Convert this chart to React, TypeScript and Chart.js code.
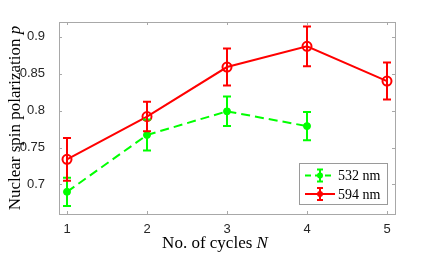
import React, { useEffect, useRef } from "react";
import { Chart, registerables } from "chart.js";
Chart.register(...registerables);

const cycles = [1, 2, 3, 4, 5];
const p532 = [0.690, 0.767, 0.799, 0.779];
const err532 = [0.019, 0.021, 0.020, 0.019];
const p594 = [0.734, 0.792, 0.859, 0.887, 0.840];
const err594 = [0.029, 0.020, 0.025, 0.027, 0.025];
const yTicks = [0.7, 0.75, 0.8, 0.85, 0.9];
const yTickLabels = ["0.7", "0.75", "0.8", "0.85", "0.9"];
const xTicks = [1, 2, 3, 4, 5];
const xTickLabels = ["1", "2", "3", "4", "5"];
const seriesNames = ["532 nm", "594 nm"];
const xTitleParts = ["No. of cycles ", "N"];
const yTitleParts = ["Nuclear spin polarization ", "p"];

const RED = "#ff0000";
const GREEN = "#00ff00";
const FRAME = "#a8a8a8";
const SERIF = '"Liberation Serif", "Times New Roman", serif';
const SANS = '"Liberation Sans", Arial, Helvetica, sans-serif';

const errors = [err532, err594];
const colors = [GREEN, RED];

function drawMixed(ctx: CanvasRenderingContext2D, parts: string[], cx: number, cy: number, size: number) {
  const fonts = [`${size}px ${SERIF}`, `italic ${size}px ${SERIF}`];
  let total = 0;
  const widths = parts.map((p, i) => {
    ctx.font = fonts[i];
    const w = ctx.measureText(p).width;
    total += w;
    return w;
  });
  let x = cx - total / 2;
  ctx.textAlign = "left";
  ctx.textBaseline = "alphabetic";
  parts.forEach((p, i) => {
    ctx.font = fonts[i];
    ctx.fillText(p, x, cy);
    x += widths[i];
  });
}

const customPlugin = {
  id: "custom",
  beforeDatasetsDraw(chart: any) {
    const { ctx, chartArea: a, scales } = chart;
    ctx.save();
    ctx.strokeStyle = FRAME;
    ctx.lineWidth = 1;
    ctx.strokeRect(Math.round(a.left) + 0.5, Math.round(a.top) + 0.5, Math.round(a.right - a.left), Math.round(a.bottom - a.top));
    ctx.beginPath();
    yTicks.forEach((v) => {
      const y = Math.round(scales.y.getPixelForValue(v)) + 0.5;
      ctx.moveTo(a.left, y); ctx.lineTo(a.left + 3, y);
      ctx.moveTo(a.right, y); ctx.lineTo(a.right - 3, y);
    });
    xTicks.forEach((v) => {
      const x = Math.round(scales.x.getPixelForValue(v)) + 0.5;
      ctx.moveTo(x, a.bottom); ctx.lineTo(x, a.bottom - 3);
      ctx.moveTo(x, a.top); ctx.lineTo(x, a.top + 3);
    });
    ctx.stroke();
    ctx.restore();
  },
  afterDatasetsDraw(chart: any) {
    const { ctx, scales } = chart;
    ctx.save();
    chart.data.datasets.forEach((ds: any, i: number) => {
      const errs = errors[i];
      ctx.strokeStyle = colors[i];
      ctx.lineWidth = 2;
      ds.data.forEach((pt: any, j: number) => {
        const x = scales.x.getPixelForValue(pt.x);
        const yt = scales.y.getPixelForValue(pt.y + errs[j]);
        const yb = scales.y.getPixelForValue(pt.y - errs[j]);
        ctx.beginPath();
        ctx.moveTo(x, yt); ctx.lineTo(x, yb);
        ctx.moveTo(x - 4, yt); ctx.lineTo(x + 4, yt);
        ctx.moveTo(x - 4, yb); ctx.lineTo(x + 4, yb);
        ctx.stroke();
      });
    });
    ctx.restore();
  },
  afterDraw(chart: any) {
    const { ctx, chartArea: a } = chart;
    ctx.save();
    ctx.fillStyle = "#000";
    drawMixed(ctx, xTitleParts, 215, 248, 17);
    ctx.translate(20, (a.top + a.bottom) / 2);
    ctx.rotate(-Math.PI / 2);
    drawMixed(ctx, yTitleParts, 0, 0, 17);
    ctx.restore();

    // legend
    ctx.save();
    const lx = 299, ly = 163, lw = 88, lh = 41;
    ctx.fillStyle = "#fff";
    ctx.fillRect(lx, ly, lw, lh);
    ctx.strokeStyle = "#9a9a9a";
    ctx.lineWidth = 1;
    ctx.strokeRect(lx + 0.5, ly + 0.5, lw, lh);
    const rows = [175.5, 194];
    seriesNames.forEach((name, i) => {
      const y = rows[i];
      ctx.strokeStyle = colors[i];
      ctx.fillStyle = colors[i];
      ctx.lineWidth = 2;
      ctx.setLineDash(i === 0 ? [6, 4] : []);
      ctx.beginPath();
      ctx.moveTo(305, y); ctx.lineTo(335, y);
      ctx.stroke();
      ctx.setLineDash([]);
      ctx.beginPath();
      ctx.moveTo(320, y - 6); ctx.lineTo(320, y + 6);
      ctx.moveTo(317, y - 6); ctx.lineTo(323, y - 6);
      ctx.moveTo(317, y + 6); ctx.lineTo(323, y + 6);
      ctx.stroke();
      ctx.beginPath();
      ctx.arc(320, y, 3, 0, Math.PI * 2);
      ctx.fill();
      ctx.fillStyle = "#000";
      ctx.font = `14px ${SERIF}`;
      ctx.textAlign = "left";
      ctx.textBaseline = "middle";
      ctx.fillText(name, 338, y + 1);
    });
    ctx.restore();
  },
};

export default function App() {
  const ref = useRef<HTMLCanvasElement>(null);
  useEffect(() => {
    if (!ref.current) return;
    const chart = new Chart(ref.current, {
      type: "line",
      data: {
        datasets: [
          {
            label: seriesNames[0],
            data: p532.map((v, i) => ({ x: cycles[i], y: v })),
            borderColor: GREEN,
            backgroundColor: GREEN,
            borderWidth: 2,
            borderDash: [9, 5],
            pointRadius: 3.5,
            pointBorderWidth: 1,
            pointStyle: "circle",
          },
          {
            label: seriesNames[1],
            data: p594.map((v, i) => ({ x: cycles[i], y: v })),
            borderColor: RED,
            backgroundColor: "rgba(0,0,0,0)",
            borderWidth: 2,
            pointRadius: 4.5,
            pointBorderWidth: 2,
            pointStyle: "circle",
          },
        ],
      },
      options: {
        animation: false,
        responsive: false,
        maintainAspectRatio: false,
        layout: { padding: { top: 22, right: 41, left: 0, bottom: 0 } },
        plugins: { legend: { display: false }, tooltip: { enabled: false } },
        scales: {
          x: {
            type: "linear",
            min: 0.9,
            max: 5.1,
            grid: { display: false },
            border: { display: false },
            afterBuildTicks: (s: any) => { s.ticks = xTicks.map((v) => ({ value: v })); },
            afterFit: (s: any) => { s.height = 44; },
            ticks: {
              color: "#262626",
              font: { family: SANS, size: 13 },
              padding: 0,
              maxRotation: 0,
              callback: (_v: any, i: number) => xTickLabels[i],
            },
          },
          y: {
            type: "linear",
            min: 0.66,
            max: 0.92,
            grid: { display: false },
            border: { display: false },
            afterBuildTicks: (s: any) => { s.ticks = yTicks.map((v) => ({ value: v })); },
            afterFit: (s: any) => { s.width = 59; },
            ticks: {
              color: "#262626",
              font: { family: SANS, size: 13 },
              padding: 6,
              callback: (_v: any, i: number) => yTickLabels[i],
            },
          },
        },
      },
      plugins: [customPlugin],
    });
    return () => chart.destroy();
  }, []);
  return (
    <div style={{ position: "fixed", left: 0, top: 0, width: 436, height: 258, background: "#fff" }}>
      <canvas ref={ref} width={436} height={258} style={{ width: 436, height: 258 }} />
    </div>
  );
}
